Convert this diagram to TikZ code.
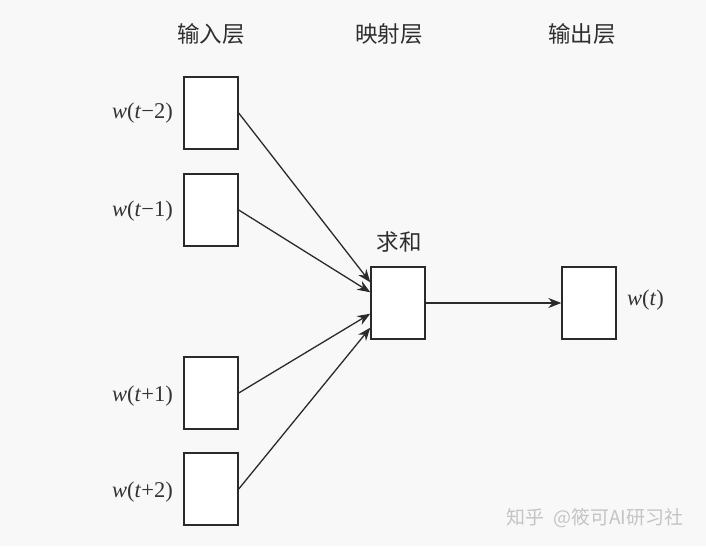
\documentclass[tikz,border=0pt]{standalone}
\usepackage{fontspec}
\setmainfont{Liberation Serif}
\newfontfamily\cjk{Noto Sans CJK SC}
\usetikzlibrary{arrows.meta}
\definecolor{bgc}{HTML}{F8F8F8}
\definecolor{linec}{HTML}{2A2A2A}
\definecolor{wmc}{HTML}{C4C4C4}
\begin{document}
\begin{tikzpicture}[x=1pt,y=-1pt,
  cell/.style={draw=linec, line width=1.4pt, fill=white, minimum width=54pt, minimum height=72pt, inner sep=0pt},
  head/.style={font=\cjk\fontsize{22.5}{26}\selectfont, text=black!82},
  wlab/.style={font=\fontsize{22.5}{26}\selectfont, text=black!80, anchor=east, inner sep=0pt},
  conn/.style={draw=linec, line width=1.3pt, -{Stealth[length=13pt,width=10pt]}}
]
\fill[bgc] (0,0) rectangle (706,546);
\useasboundingbox (0,0) rectangle (706,546);

\node[head] (hin) at (211,34) {输入层};
\node[head] (hproj) at (389,34) {映射层};
\node[head] (hout) at (582,34) {输出层};

\node[cell] (i1) at (211,113) {};
\node[cell] (i2) at (211,210) {};
\node[cell] (i3) at (211,393) {};
\node[cell] (i4) at (211,489) {};
\node[cell] (p) at (398,303) {};
\node[cell] (o) at (589,303) {};

\node[wlab] (l1) at (173,113) {\textit{w}(\textit{t}−2)};
\node[wlab] (l2) at (173,211) {\textit{w}(\textit{t}−1)};
\node[wlab] (l3) at (173,396) {\textit{w}(\textit{t}+1)};
\node[wlab] (l4) at (173,492) {\textit{w}(\textit{t}+2)};
\node[wlab, anchor=west] (lo) at (627,300) {\textit{w}(\textit{t})};

\node[head] (sum) at (399,242) {求和};

\draw[conn] (i1.east) -- ([yshift=-16pt]p.north west);
\draw[conn] (i2.east) -- ([yshift=-26pt]p.north west);
\draw[conn] (i3.east) -- ([yshift=26pt]p.south west);
\draw[conn] (i4.east) -- ([yshift=12pt]p.south west);
\draw[conn] (p.east) -- (o.west);

\node[font=\cjk\fontsize{19}{22}\selectfont, text=wmc] (wm) at (595,518) {知乎\ \ @筱可AI研习社};
\end{tikzpicture}
\end{document}
